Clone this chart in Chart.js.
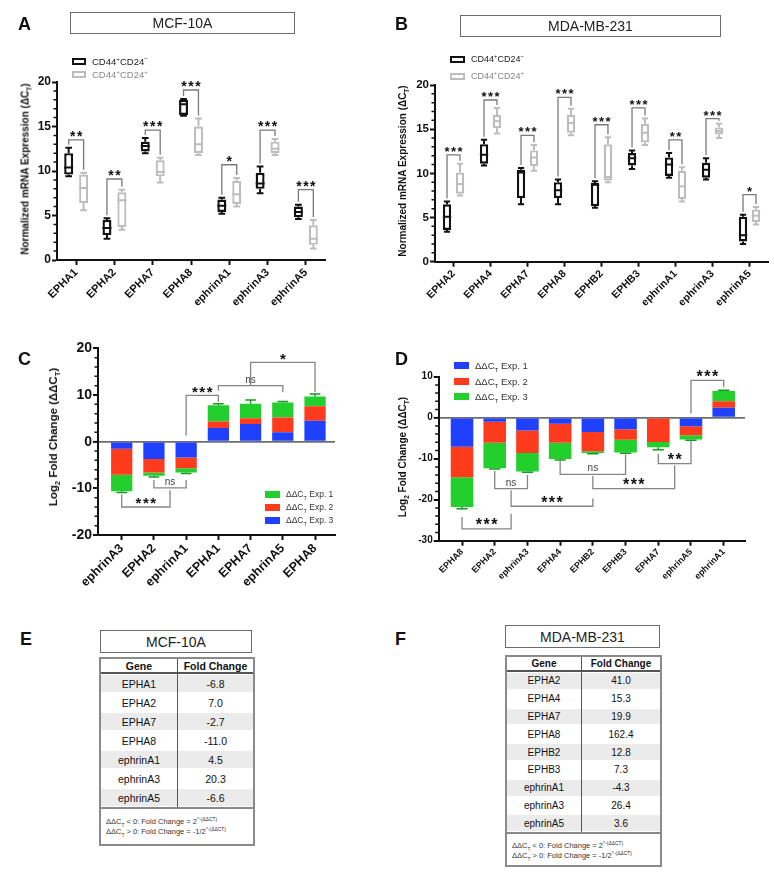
<!DOCTYPE html>
<html lang="en">
<head>
<meta charset="utf-8">
<title>Eph / ephrin expression</title>
<script src="https://cdn.jsdelivr.net/npm/chart.js@4.4.1/dist/chart.umd.min.js"></script>
<style>
  html, body { margin: 0; padding: 0; background: #fff; }
  body { position: relative; width: 774px; height: 881px; overflow: hidden;
         font-family: 'Liberation Sans', Arial, Helvetica, sans-serif; color: #111; }
  .plot { position: absolute; }
  .letter { position: absolute; font-size: 18px; font-weight: bold; line-height: 1; }
  .tbox { position: absolute; box-sizing: border-box; border: 1.5px solid #6b6b6b;
          display: flex; align-items: center; justify-content: center; font-size: 14px; color: #222; }
  .ytitle { position: absolute; transform: translate(-50%, -50%) rotate(-90deg);
            white-space: nowrap; font-weight: bold; color: #111; }
  sub, sup { font-size: 65%; line-height: 0; }
  .leg { position: absolute; height: 12px; display: flex; align-items: center; white-space: nowrap; }
  .sw { display: inline-block; box-sizing: border-box; margin-right: 6px; flex: none; }
  .tbl { position: absolute; box-sizing: border-box; border: 2px solid #8a8a8a; background: #fff; }
  .tbl .row { display: flex; box-sizing: border-box; }
  .tbl .cell { display: flex; align-items: center; justify-content: center; box-sizing: border-box; }
  .tbl .c1 { border-right: 1.5px solid #555; }
  .tbl .c2 { flex: 1; }
  .tbl .hdr { font-weight: bold; border-bottom: 2px solid #555; }
  .tbl .shade .cell { background: #ebebeb; box-shadow: inset 0 1px 0 #fff, inset 0 -1px 0 #fff; }
  .tbl .formula { border-top: 2px solid #8a8a8a; font-size: 7.5px; line-height: 9.5px;
                  color: #333; box-sizing: border-box; padding-left: 5px; }
</style>
</head>
<body>

<div class="plot" style="left:0;top:0;width:340px;height:330px"><canvas id="chartA"></canvas></div>
<div class="plot" style="left:387px;top:0;width:387px;height:330px"><canvas id="chartB"></canvas></div>
<div class="plot" style="left:0;top:300px;width:345px;height:300px"><canvas id="chartC"></canvas></div>
<div class="plot" style="left:387px;top:300px;width:387px;height:290px"><canvas id="chartD"></canvas></div>

<div class="letter" style="left:18px;top:15px">A</div>
<div class="letter" style="left:395px;top:15px">B</div>
<div class="letter" style="left:18px;top:350px">C</div>
<div class="letter" style="left:395px;top:350px">D</div>
<div class="letter" style="left:20px;top:630px">E</div>
<div class="letter" style="left:395px;top:630px">F</div>

<div class="tbox" style="left:70px;top:12px;width:225px;height:22px">MCF-10A</div>
<div class="tbox" style="left:460px;top:15px;width:261px;height:22px">MDA-MB-231</div>
<div class="tbox" style="left:100px;top:630px;width:152px;height:23px">MCF-10A</div>
<div class="tbox" style="left:505px;top:625px;width:155px;height:23px">MDA-MB-231</div>

<div class="ytitle" style="left:25px;top:169px;font-size:10px">Normalized mRNA Expression (&Delta;C<sub>T</sub>)</div>
<div class="ytitle" style="left:402px;top:171px;font-size:10px">Normalized mRNA Expression (&Delta;C<sub>T</sub>)</div>
<div class="ytitle" style="left:53px;top:437px;font-size:11.5px">Log<sub>2</sub> Fold Change (&Delta;&Delta;C<sub>T</sub>)</div>
<div class="ytitle" style="left:402px;top:457px;font-size:10px">Log<sub>2</sub> Fold Change (&Delta;&Delta;C<sub>T</sub>)</div>

<!-- box plot legends -->
<div class="leg" style="left:72px;top:55px;font-size:9.5px;color:#222"><span class="sw" style="width:14px;height:7px;border:2px solid #111"></span><span>CD44<sup>+</sup>CD24<sup>&minus;</sup></span></div>
<div class="leg" style="left:72px;top:68px;font-size:9.5px;color:#888"><span class="sw" style="width:14px;height:7px;border:2px solid #bdbdbd"></span><span>CD44<sup>+</sup>CD24<sup>+</sup></span></div>
<div class="leg" style="left:450px;top:53px;font-size:9px;color:#222"><span class="sw" style="width:15px;height:7px;border:2px solid #111"></span><span>CD44<sup>+</sup>CD24<sup>&minus;</sup></span></div>
<div class="leg" style="left:450px;top:70px;font-size:9px;color:#888"><span class="sw" style="width:15px;height:7px;border:2px solid #bdbdbd"></span><span>CD44<sup>+</sup>CD24<sup>+</sup></span></div>

<!-- stacked bar legends -->
<div class="leg" style="left:265px;top:488px;font-size:8.5px;color:#333"><span class="sw" style="width:15px;height:7px;background:#22cf2c"></span><span>&Delta;&Delta;C<sub>T</sub> Exp. 1</span></div>
<div class="leg" style="left:265px;top:501px;font-size:8.5px;color:#333"><span class="sw" style="width:15px;height:7px;background:#ff3b1e"></span><span>&Delta;&Delta;C<sub>T</sub> Exp. 2</span></div>
<div class="leg" style="left:265px;top:514px;font-size:8.5px;color:#333"><span class="sw" style="width:15px;height:7px;background:#1f40ff"></span><span>&Delta;&Delta;C<sub>T</sub> Exp. 3</span></div>
<div class="leg" style="left:454px;top:359px;font-size:9.5px;color:#333"><span class="sw" style="width:15px;height:7px;background:#1f40ff"></span><span>&Delta;&Delta;C<sub>T</sub> Exp. 1</span></div>
<div class="leg" style="left:454px;top:375px;font-size:9.5px;color:#333"><span class="sw" style="width:15px;height:7px;background:#ff3b1e"></span><span>&Delta;&Delta;C<sub>T</sub> Exp. 2</span></div>
<div class="leg" style="left:454px;top:390px;font-size:9.5px;color:#333"><span class="sw" style="width:15px;height:7px;background:#22cf2c"></span><span>&Delta;&Delta;C<sub>T</sub> Exp. 3</span></div>

<div class="tbl" id="tableE" style="left:99px;top:657px;width:156px"></div>
<div class="tbl" id="tableF" style="left:505px;top:655px;width:157px"></div>

<script>
'use strict';

// ── Panel A: MCF-10A, ΔCT box plots  [min, q1, median, q3, max] ──
const genesA = ['EPHA1', 'EPHA2', 'EPHA7', 'EPHA8', 'ephrinA1', 'ephrinA3', 'ephrinA5'];
const negA = [
  [9.4, 9.6, 10.4, 12.0, 12.6],
  [2.4, 2.8, 3.6, 4.5, 4.7],
  [12.0, 12.2, 12.8, 13.3, 13.7],
  [16.2, 16.3, 17.5, 18.0, 18.1],
  [5.2, 5.4, 6.1, 6.8, 7.0],
  [7.5, 8.0, 8.6, 9.8, 10.5],
  [4.6, 4.8, 5.4, 6.0, 6.2],
];
const posA = [
  [5.6, 6.4, 8.1, 9.6, 9.8],
  [3.4, 3.7, 6.7, 7.6, 7.9],
  [8.7, 9.4, 9.9, 11.2, 11.5],
  [11.8, 12.0, 13.0, 15.0, 15.9],
  [6.0, 6.3, 7.4, 8.9, 9.2],
  [11.8, 12.0, 12.5, 13.3, 13.6],
  [1.3, 1.7, 2.4, 3.9, 4.5],
];
const sigA = ['**', '**', '***', '***', '*', '***', '***'];
const sigLevelA = [13.5, 9.1, 14.6, 19.1, 10.7, 14.6, 7.9];

// ── Panel B: MDA-MB-231, ΔCT box plots ──
const genesB = ['EPHA2', 'EPHA4', 'EPHA7', 'EPHA8', 'EPHB2', 'EPHB3', 'ephrinA1', 'ephrinA3', 'ephrinA5'];
const negB = [
  [3.4, 3.6, 5.1, 6.5, 6.8],
  [10.9, 11.1, 12.1, 13.3, 13.8],
  [6.5, 7.2, 10.1, 10.4, 10.6],
  [6.5, 7.2, 8.1, 9.0, 9.3],
  [6.1, 6.3, 8.7, 8.9, 9.1],
  [10.5, 10.9, 11.7, 12.3, 12.6],
  [9.5, 9.7, 11.0, 11.8, 12.3],
  [9.3, 9.5, 10.4, 11.2, 11.7],
  [2.0, 2.3, 3.0, 5.1, 5.3],
];
const posB = [
  [7.5, 7.7, 8.8, 10.1, 11.1],
  [14.5, 15.1, 15.9, 16.6, 17.4],
  [10.3, 10.8, 11.8, 12.6, 13.2],
  [14.3, 14.6, 15.7, 16.6, 17.3],
  [9.0, 9.2, 9.6, 13.3, 14.1],
  [13.2, 13.5, 14.6, 15.6, 16.2],
  [6.8, 7.1, 8.5, 10.3, 10.7],
  [14.0, 14.4, 14.8, 15.2, 15.6],
  [4.2, 4.5, 5.2, 5.9, 6.2],
];
const sigB = ['***', '***', '***', '***', '***', '***', '**', '***', '*'];
const sigLevelB = [12.1, 18.3, 14.3, 18.6, 15.5, 17.4, 13.8, 16.2, 7.6];

// ── Panel C: MCF-10A, stacked ΔΔCT per experiment ──
const genesC = ['ephrinA3', 'EPHA2', 'ephrinA1', 'EPHA1', 'EPHA7', 'ephrinA5', 'EPHA8'];
const exp3C = [-1.5, -3.7, -3.4, 2.9, 3.8, 2.0, 4.5];
const exp2C = [-5.6, -2.9, -2.3, 1.4, 1.2, 3.2, 3.1];
const exp1C = [-3.5, -0.7, -0.9, 3.5, 3.1, 3.2, 2.1];
const errC = [0.3, 0.3, 0.2, 0.3, 0.8, 0.2, 0.5];
const bracketsC = [
  { from: 2, to: 3, at: 9.9, leg1: 1.3, leg2: 8.5, mark: '***' },
  { from: 3, to: 5, at: 12.0, leg1: 10.9, leg2: 10.6, mark: 'ns' },
  { from: 4, to: 6, at: 17.0, leg1: 12.0, leg2: 10.6, mark: '*' },
  { from: 1, to: 2, at: -9.9, leg1: -8.2, leg2: -8.2, mark: 'ns' },
  { from: 0, to: 1.5, at: -14.0, leg1: -11.3, leg2: -10.4, mark: '***' },
];

// ── Panel D: MDA-MB-231, stacked ΔΔCT per experiment ──
const genesD = ['EPHA8', 'EPHA2', 'ephrinA3', 'EPHA4', 'EPHB2', 'EPHB3', 'EPHA7', 'ephrinA5', 'ephrinA1'];
const exp1D = [-7.1, -1.0, -3.1, -1.5, -3.5, -2.8, -0.2, -2.1, 2.4];
const exp2D = [-7.4, -5.1, -5.5, -4.6, -4.7, -2.6, -5.7, -2.2, 1.6];
const exp3D = [-7.3, -6.2, -4.5, -4.0, -0.4, -3.1, -1.3, -1.0, 2.5];
const errD = [0.4, 0.2, 0.2, 0.2, 0.2, 0.2, 0.6, 0.2, 0.2];
const bracketsD = [
  { from: 7, to: 8, at: 9.1, leg1: 1.0, leg2: 7.5, mark: '***' },
  { from: 6, to: 7, at: -11.2, leg1: -8.8, leg2: -5.6, mark: '**' },
  { from: 3, to: 5, at: -13.8, leg1: -10.5, leg2: -8.9, mark: 'ns' },
  { from: 4, to: 6.5, at: -17.3, leg1: -14.2, leg2: -11.6, mark: '***' },
  { from: 1, to: 2, at: -17.3, leg1: -13.0, leg2: -14.0, mark: 'ns' },
  { from: 1.5, to: 4, at: -21.6, leg1: -17.7, leg2: -19.7, mark: '***' },
  { from: 0, to: 1.5, at: -27.1, leg1: -24.2, leg2: -23.4, mark: '***' },
];

// ── Panels E / F: fold change tables ──
const genesE = ['EPHA1', 'EPHA2', 'EPHA7', 'EPHA8', 'ephrinA1', 'ephrinA3', 'ephrinA5'];
const foldE = [-6.8, 7.0, -2.7, -11.0, 4.5, 20.3, -6.6];
const genesF = ['EPHA2', 'EPHA4', 'EPHA7', 'EPHA8', 'EPHB2', 'EPHB3', 'ephrinA1', 'ephrinA3', 'ephrinA5'];
const foldF = [41.0, 15.3, 19.9, 162.4, 12.8, 7.3, -4.3, 26.4, 3.6];

const FONT = "'Liberation Sans', Arial, sans-serif";
const BLUE = '#1f40ff', RED = '#ff3b1e', GREEN = '#22cf2c';

Chart.defaults.font.family = FONT;
Chart.defaults.color = '#111';
Chart.defaults.animation = false;

// ── Plugins ──
const boxWhiskers = {
  id: 'boxWhiskers',
  afterDatasetsDraw(chart) {
    const { ctx } = chart, y = chart.scales.y;
    chart.data.datasets.forEach((ds, d) => {
      const bars = chart.getDatasetMeta(d).data;
      ctx.save();
      ctx.strokeStyle = ds.borderColor;
      ctx.lineWidth = 2;
      bars.forEach((bar, i) => {
        const [mn, q1, md, q3, mx] = ds.stats[i];
        const hw = bar.width / 2, cw = hw * 0.75;
        const pMin = y.getPixelForValue(mn), pMax = y.getPixelForValue(mx);
        ctx.beginPath();
        ctx.moveTo(bar.x, y.getPixelForValue(q3)); ctx.lineTo(bar.x, pMax);
        ctx.moveTo(bar.x - cw, pMax); ctx.lineTo(bar.x + cw, pMax);
        ctx.moveTo(bar.x, y.getPixelForValue(q1)); ctx.lineTo(bar.x, pMin);
        ctx.moveTo(bar.x - cw, pMin); ctx.lineTo(bar.x + cw, pMin);
        ctx.moveTo(bar.x - hw, y.getPixelForValue(md)); ctx.lineTo(bar.x + hw, y.getPixelForValue(md));
        ctx.stroke();
      });
      ctx.restore();
    });
  }
};

function pairBrackets(levels, marks, starSize) {
  return {
    id: 'pairBrackets',
    afterDatasetsDraw(chart) {
      const { ctx } = chart, y = chart.scales.y;
      const [d0, d1] = chart.data.datasets;
      const m0 = chart.getDatasetMeta(0).data, m1 = chart.getDatasetMeta(1).data;
      ctx.save();
      ctx.strokeStyle = '#7a7a7a';
      ctx.lineWidth = 1.3;
      ctx.fillStyle = '#111';
      ctx.font = 'bold ' + starSize + 'px ' + FONT;
      ctx.letterSpacing = '1.5px';
      ctx.textAlign = 'center';
      levels.forEach((lv, i) => {
        const xl = m0[i].x, xr = m1[i].x, top = y.getPixelForValue(lv);
        const yl = y.getPixelForValue(d0.stats[i][4]) - 3;
        const yr = y.getPixelForValue(d1.stats[i][4]) - 3;
        ctx.beginPath();
        ctx.moveTo(xl, yl); ctx.lineTo(xl, top); ctx.lineTo(xr, top); ctx.lineTo(xr, yr);
        ctx.stroke();
        ctx.fillText(marks[i], (xl + xr) / 2 + 0.75, top + 1);
      });
      ctx.restore();
    }
  };
}

function groupBrackets(list, starSize) {
  return {
    id: 'groupBrackets',
    afterDatasetsDraw(chart) {
      const { ctx } = chart, xs = chart.scales.x, ys = chart.scales.y;
      ctx.save();
      ctx.strokeStyle = '#858585';
      ctx.lineWidth = 1.3;
      ctx.textAlign = 'center';
      list.forEach((b) => {
        const x1 = xs.getPixelForValue(b.from), x2 = xs.getPixelForValue(b.to);
        const yb = ys.getPixelForValue(b.at);
        ctx.beginPath();
        ctx.moveTo(x1, ys.getPixelForValue(b.leg1)); ctx.lineTo(x1, yb);
        ctx.lineTo(x2, yb); ctx.lineTo(x2, ys.getPixelForValue(b.leg2));
        ctx.stroke();
        if (b.mark === 'ns') {
          ctx.font = '10px ' + FONT;
          ctx.fillStyle = '#444';
          ctx.letterSpacing = '0px';
          ctx.fillText('ns', (x1 + x2) / 2, yb - 3);
        } else {
          ctx.font = 'bold ' + starSize + 'px ' + FONT;
          ctx.fillStyle = '#111';
          ctx.letterSpacing = '1.5px';
          ctx.fillText(b.mark, (x1 + x2) / 2 + 0.75, yb + 1.5);
        }
      });
      ctx.restore();
    }
  };
}

function stackErrors(errs, color) {
  return {
    id: 'stackErrors',
    afterDatasetsDraw(chart) {
      const { ctx } = chart, xs = chart.scales.x, ys = chart.scales.y;
      const sets = chart.data.datasets;
      const bars = chart.getDatasetMeta(sets.length - 1).data;
      ctx.save();
      ctx.strokeStyle = color;
      ctx.lineWidth = 1.5;
      errs.forEach((e, i) => {
        const tot = sets.reduce((s, ds) => s + ds.data[i].y, 0);
        const x = xs.getPixelForValue(i), cw = bars[i].width * 0.25;
        const p0 = ys.getPixelForValue(tot), p1 = ys.getPixelForValue(tot + Math.sign(tot) * e);
        ctx.beginPath();
        ctx.moveTo(x, p0); ctx.lineTo(x, p1);
        ctx.moveTo(x - cw, p1); ctx.lineTo(x + cw, p1);
        ctx.stroke();
      });
      ctx.restore();
    }
  };
}

function minorTicks(step) {
  return {
    id: 'minorTicks',
    afterDraw(chart) {
      const { ctx, chartArea } = chart, y = chart.scales.y;
      const major = y.options.ticks.stepSize;
      ctx.save();
      ctx.strokeStyle = '#111';
      ctx.lineWidth = 1.5;
      ctx.beginPath();
      for (let k = 0; y.min + k * step <= y.max + 1e-9; k++) {
        const v = y.min + k * step;
        if (Math.abs(v % major) < 1e-6) continue;
        const p = y.getPixelForValue(v);
        ctx.moveTo(chartArea.left - 3.5, p); ctx.lineTo(chartArea.left, p);
      }
      ctx.stroke();
      ctx.restore();
    }
  };
}

// ── Box plot panels (A, B) ──
function drawBoxPanel(id, genes, neg, pos, levels, marks, fit) {
  const box = (stats, color, width) => ({
    data: stats.map((b) => [b[1], b[3]]),
    stats: stats,
    borderColor: color,
    backgroundColor: '#fff',
    borderWidth: width,
    borderSkipped: false,
    categoryPercentage: fit.cat,
    barPercentage: fit.bar,
  });
  return new Chart(document.getElementById(id), {
    type: 'bar',
    data: {
      labels: genes,
      datasets: [
        Object.assign({ label: 'CD44+CD24-' }, box(neg, '#111', 2.4)),
        Object.assign({ label: 'CD44+CD24+' }, box(pos, '#bdbdbd', 2.2)),
      ],
    },
    options: {
      responsive: true, maintainAspectRatio: false, events: [],
      layout: { padding: { top: fit.top, right: fit.right, left: 0, bottom: 0 } },
      plugins: { legend: { display: false }, tooltip: { enabled: false } },
      scales: {
        x: {
          offset: true,
          grid: { drawOnChartArea: false, offset: false, tickLength: 5, tickWidth: 2, tickColor: '#111' },
          border: { width: 2, color: '#111' },
          ticks: { autoSkip: false, maxRotation: 45, minRotation: 45, padding: 1, color: '#111',
                   font: { size: fit.xFont, weight: 'bold' } },
          afterFit: (s) => { s.height = fit.xH; },
        },
        y: {
          min: 0, max: 20,
          grid: { drawOnChartArea: false, tickLength: 5, tickWidth: 2, tickColor: '#111' },
          border: { width: 2, color: '#111' },
          ticks: { stepSize: 5, padding: 1, color: '#111', font: { size: fit.yFont, weight: 'bold' } },
          afterFit: (s) => { s.width = fit.yW; },
        },
      },
    },
    plugins: [boxWhiskers, pairBrackets(levels, marks, fit.star), minorTicks(1)],
  });
}

// ── Stacked bar panels (C, D) ──
function drawStackPanel(id, genes, series, brackets, errs, fit) {
  return new Chart(document.getElementById(id), {
    type: 'bar',
    data: {
      datasets: series.map((s) => ({
        label: s.label,
        data: s.values.map((v, i) => ({ x: i, y: v })),
        backgroundColor: s.color,
        borderWidth: 0,
        categoryPercentage: 1,
        barPercentage: fit.bar,
      })),
    },
    options: {
      responsive: true, maintainAspectRatio: false, events: [],
      layout: { padding: { top: fit.top, right: fit.right, left: 0, bottom: 0 } },
      plugins: { legend: { display: false }, tooltip: { enabled: false } },
      scales: {
        x: {
          type: 'linear', stacked: true, offset: false,
          min: fit.xMin, max: fit.xMax,
          grid: { drawOnChartArea: false, offset: false, tickLength: 5, tickWidth: 2, tickColor: '#111' },
          border: { width: 2, color: '#111' },
          ticks: { stepSize: 1, includeBounds: false, autoSkip: false, maxRotation: 45, minRotation: 45,
                   padding: 1, color: '#111', font: { size: fit.xFont, weight: 'bold' },
                   callback: (v) => genes[v] ?? '' },
          afterFit: (s) => { s.height = fit.xH; },
        },
        y: {
          stacked: true, min: fit.yMin, max: fit.yMax,
          grid: {
            drawOnChartArea: true, tickLength: 5, tickWidth: 2, tickColor: '#111',
            color: (c) => (c.tick && c.tick.value === 0 ? '#6e6e6e' : 'rgba(0,0,0,0)'),
            lineWidth: (c) => (c.tick && c.tick.value === 0 ? 1.8 : 0),
          },
          border: { width: 2, color: '#111' },
          ticks: { stepSize: 10, padding: 1, color: '#111', font: { size: fit.yFont, weight: 'bold' } },
          afterFit: (s) => { s.width = fit.yW; },
        },
      },
    },
    plugins: [stackErrors(errs, '#169a20'), groupBrackets(brackets, fit.star), minorTicks(2)],
  });
}

drawBoxPanel('chartA', genesA, negA, posA, sigLevelA, sigA,
  { top: 82, right: 15, yW: 57, xH: 70, cat: 0.78, bar: 0.6, xFont: 11, yFont: 12, star: 14 });

drawBoxPanel('chartB', genesB, negB, posB, sigLevelB, sigB,
  { top: 85, right: 6, yW: 48, xH: 68.3, cat: 0.7, bar: 0.64, xFont: 10.5, yFont: 11.5, star: 13 });

drawStackPanel('chartC', genesC,
  [
    { label: 'ΔΔCT Exp. 3', values: exp3C, color: BLUE },
    { label: 'ΔΔCT Exp. 2', values: exp2C, color: RED },
    { label: 'ΔΔCT Exp. 1', values: exp1C, color: GREEN },
  ],
  bracketsC, errC,
  { top: 48.3, right: 10, yW: 98, xH: 65, bar: 0.66, xMin: -0.736, xMax: 6.62,
    yMin: -20, yMax: 20, xFont: 12.5, yFont: 14, star: 15 });

drawStackPanel('chartD', genesD,
  [
    { label: 'ΔΔCT Exp. 1', values: exp1D, color: BLUE },
    { label: 'ΔΔCT Exp. 2', values: exp2D, color: RED },
    { label: 'ΔΔCT Exp. 3', values: exp3D, color: GREEN },
  ],
  bracketsD, errD,
  { top: 76.7, right: 29, yW: 51.7, xH: 49.3, bar: 0.69, xMin: -0.713, xMax: 8.651,
    yMin: -30, yMax: 10, xFont: 9, yFont: 10, star: 16 });

// ── Tables ──
function buildTable(id, genes, folds, sz) {
  let html = '<div class="row hdr" style="height:' + sz.head + 'px;font-size:' + sz.font + 'px">' +
    '<div class="cell c1" style="width:' + sz.col + 'px">Gene</div><div class="cell c2">Fold Change</div></div>';
  genes.forEach((g, i) => {
    html += '<div class="row' + (i % 2 === 0 ? ' shade' : '') + '" style="height:' + sz.row + 'px;font-size:' + sz.font + 'px">' +
      '<div class="cell c1" style="width:' + sz.col + 'px">' + g + '</div>' +
      '<div class="cell c2">' + folds[i].toFixed(1) + '</div></div>';
  });
  html += '<div class="formula" style="height:' + sz.foot + 'px;padding-top:' + sz.pad + 'px">' +
    '&Delta;&Delta;C<sub>T</sub> &lt; 0: Fold Change = 2<sup>^-(&Delta;&Delta;CT)</sup><br>' +
    '&Delta;&Delta;C<sub>T</sub> &gt; 0: Fold Change = -1/2<sup>^-(&Delta;&Delta;CT)</sup></div>';
  document.getElementById(id).innerHTML = html;
}

buildTable('tableE', genesE, foldE, { head: 15, row: 19, foot: 37, pad: 8, col: 77, font: 10.5 });
buildTable('tableF', genesF, foldF, { head: 15, row: 17.8, foot: 33, pad: 7, col: 75, font: 10 });
</script>
</body>
</html>
